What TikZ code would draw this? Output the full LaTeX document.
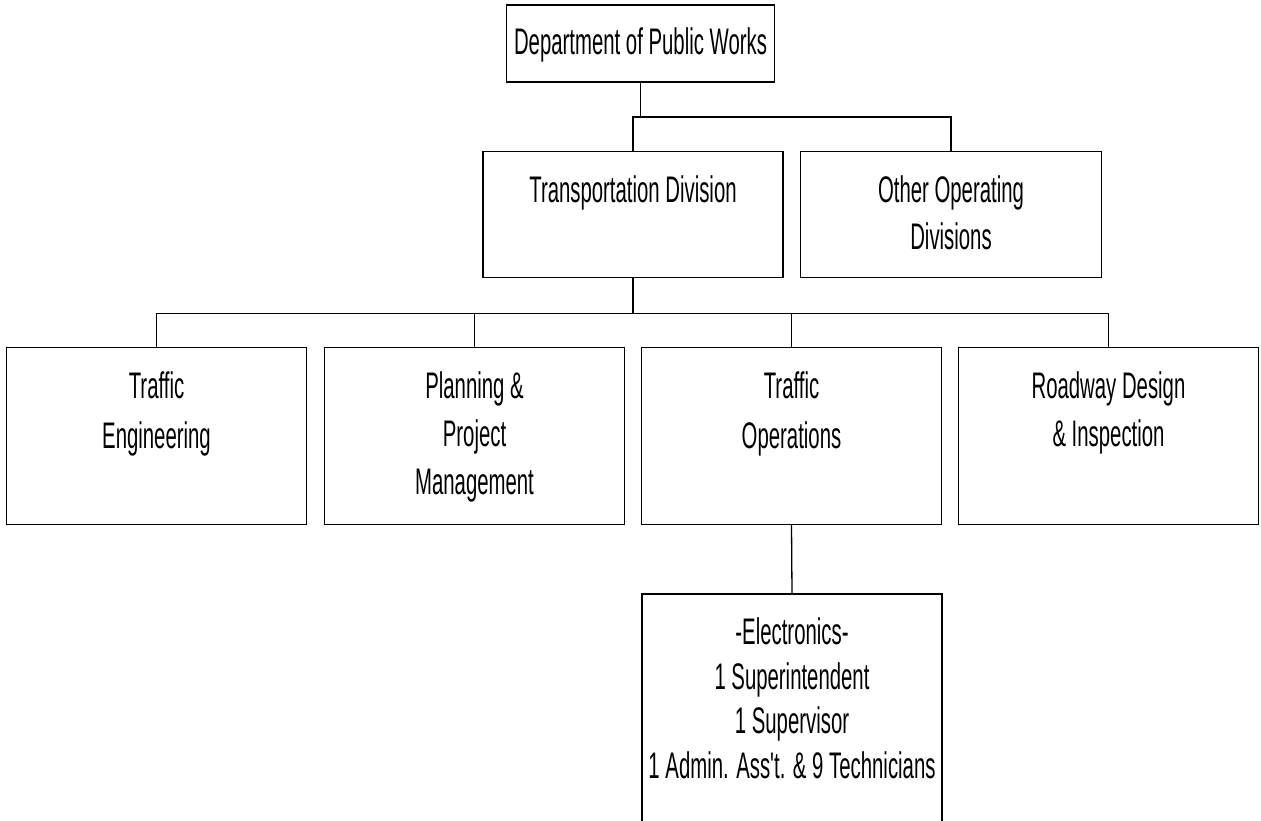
\documentclass[tikz,border=0pt]{standalone}
\usepackage{fontspec}
\newfontfamily\orgfont[FakeStretch=0.55]{Liberation Sans}
\usetikzlibrary{positioning}

\begin{document}
\begin{tikzpicture}[x=1pt, y=-1pt, line width=1.3pt,
    unit/.style={draw, minimum width=300pt, inner sep=0pt},
    lbl/.style={anchor=north, yshift=-24pt, align=center, inner sep=0pt,
      font=\orgfont\fontsize{37}{48}\selectfont}]
  \useasboundingbox (0,0) rectangle (1261,821);
  % top
  \node[unit, minimum width=268pt, minimum height=77pt] (dpw) at (640.5,43.5) {};
  \node[lbl, yshift=1pt] (dpwtxt) at (dpw.north) {Department of Public Works};
  % divisions
  \node[unit, minimum height=126.5pt] (trans) at (633,214.5) {};
  \node[lbl] (transtxt) at (trans.north) {Transportation Division};
  \node[unit, minimum width=301pt, minimum height=126.5pt] (other) at (951,214.5) {};
  \node[lbl, font=\orgfont\fontsize{37}{47}\selectfont] (othertxt) at (other.north) {Other Operating\\Divisions};
  % sections
  \node[unit, minimum height=177pt] (teng) at (156.5,436) {};
  \node[lbl, font=\orgfont\fontsize{37}{50}\selectfont] (tengtxt) at (teng.north) {Traffic\\Engineering};
  \node[unit, minimum height=177pt] (ppm) at (474.5,436) {};
  \node[lbl] (ppmtxt) at (ppm.north) {Planning \&\\Project\\Management};
  \node[unit, minimum height=177pt] (tops) at (791.5,436) {};
  \node[lbl, font=\orgfont\fontsize{37}{50}\selectfont] (topstxt) at (tops.north) {Traffic\\Operations};
  \node[unit, minimum height=177pt] (rdi) at (1108.5,436) {};
  \node[lbl] (rditxt) at (rdi.north) {Roadway Design\\\& Inspection};
  % electronics shop
  \node[unit, minimum height=240pt] (elec) at (792,714) {};
  \node[lbl, font=\orgfont\fontsize{37}{44.5}\selectfont] (electxt) at (elec.north) {-Electronics-\\1 Superintendent\\1 Supervisor\\1 Admin. Ass't. \& 9 Technicians};
  % connectors
  \coordinate (busa) at (0,117);
  \coordinate (busb) at (0,313.5);
  \draw (dpw.south) -- (dpw.south |- busa);
  \draw (trans.north) |- (other.north |- busa) -- (other.north);
  \draw (trans.south) -- (trans.south |- busb);
  \draw (teng.north) |- (rdi.north |- busb) -- (rdi.north);
  \draw (ppm.north) -- (ppm.north |- busb);
  \draw (tops.north) -- (tops.north |- busb);
  \draw (tops.south) -- (elec.north);
\end{tikzpicture}
\end{document}
